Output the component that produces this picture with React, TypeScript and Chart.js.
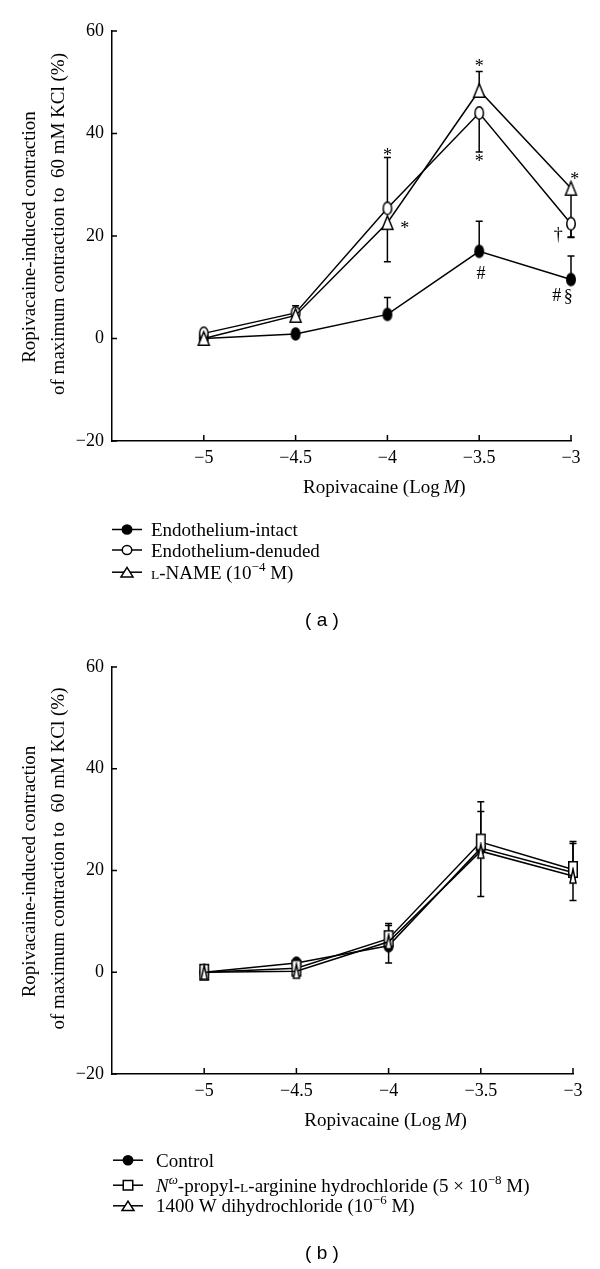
import React, { useEffect, useRef } from 'react';
import { Chart, registerables } from 'chart.js';

Chart.register(...registerables);

const SERIF = '"Liberation Serif", "Times New Roman", serif';
const SANS = '"Liberation Sans", Arial, sans-serif';

// ---------- shared axes ----------
const concentrations = [-5, -4.5, -4, -3.5, -3];
const xTickValues = [-5, -4.5, -4, -3.5, -3];
const yTickValues = [-20, 0, 20, 40, 60];
const xMin = -5.5;
const xMax = -3;
const yMin = -20;
const yMax = 60;

// ---------- panel (a) ----------
const intactMean = [0, 0.9, 4.7, 17.0, 11.5];
const intactSemUp = [0, 0, 3.3, 5.9, 4.6];
const intactSemDown = [0, 0, 0, 0, 0];

const denudedMean = [1.0, 5.0, 25.4, 44.0, 22.4];
const denudedSemUp = [0, 1.4, 9.9, 0, 0];
const denudedSemDown = [0, 0, 0, 7.6, 2.7];

const lnameMean = [0, 4.5, 22.6, 48.4, 29.3];
const lnameSemUp = [0, 0, 0, 3.7, 0];
const lnameSemDown = [0, 0, 7.6, 0, 9.5];

const annotSymbolsA = ['*', '*', '*', '*', '*', '\u2020', '#', '#', '\u00a7'];
const annotXA = [-4, -3.906, -3.5, -3.5, -2.98, -3.07, -3.49, -3.077, -3.015];
const annotYA = [36.4, 22.3, 53.8, 35.4, 31.9, 20.2, 12.8, 8.5, 8.1];

// ---------- panel (b) ----------
const controlMean = [0, 1.8, 5.2, 24.4, 19.6];
const controlSemUp = [0, 0, 4.0, 7.2, 5.7];
const controlSemDown = [0, 0, 0, 0, 0];

const propylMean = [0, 0.8, 6.6, 25.6, 20.2];
const propylSemUp = [0, 0, 3.0, 7.9, 5.5];
const propylSemDown = [0, 0, 0, 0, 0];

const w1400Mean = [0, 0.2, 6.0, 23.8, 18.9];
const w1400SemUp = [0, 0, 0, 0, 0];
const w1400SemDown = [0, 0, 4.2, 8.9, 4.8];

// ---------- legend texts ----------
type Seg = { t: string; size?: number; italic?: boolean; rise?: number };
const legendA: Seg[][] = [
  [{ t: 'Endothelium-intact' }],
  [{ t: 'Endothelium-denuded' }],
  [{ t: 'L', size: 13.5 }, { t: '-NAME (10' }, { t: '\u22124', size: 13, rise: 8 }, { t: ' M)' }],
];
const legendB: Seg[][] = [
  [{ t: 'Control' }],
  [
    { t: 'N', italic: true },
    { t: '\u03c9', italic: true, size: 13, rise: 8 },
    { t: '-propyl-' },
    { t: 'L', size: 13.5 },
    { t: '-arginine hydrochloride (5 \u00d7 10' },
    { t: '\u22128', size: 13, rise: 8 },
    { t: ' M)' },
  ],
  [{ t: '1400 W dihydrochloride (10' }, { t: '\u22126', size: 13, rise: 8 }, { t: ' M)' }],
];

const yTitleLines = ['Ropivacaine-induced contraction', 'of maximum contraction to  60 mM KCl (%)'];

type MarkerKind = 'filledCircle' | 'openCircle' | 'openTriangle' | 'openSquare';

const LW = 1.5;

function drawShape(ctx: CanvasRenderingContext2D, kind: MarkerKind, cx: number, cy: number, w: number, h: number) {
  const lw = LW;
  ctx.save();
  ctx.lineWidth = lw;
  ctx.strokeStyle = '#000';
  ctx.fillStyle = kind === 'filledCircle' ? '#000' : '#fff';
  ctx.beginPath();
  const hw = w / 2 - lw / 2;
  const hh = h / 2 - lw / 2;
  if (kind === 'filledCircle' || kind === 'openCircle') {
    ctx.ellipse(cx, cy, hw, hh, 0, 0, Math.PI * 2);
  } else if (kind === 'openTriangle') {
    ctx.moveTo(cx, cy - hh);
    ctx.lineTo(cx + hw, cy + hh);
    ctx.lineTo(cx - hw, cy + hh);
    ctx.closePath();
  } else {
    ctx.rect(cx - hw, cy - hh, hw * 2, hh * 2);
  }
  ctx.fill();
  ctx.stroke();
  ctx.restore();
}

function makeMarker(kind: MarkerKind, w: number, h: number): HTMLCanvasElement {
  const c = document.createElement('canvas');
  c.width = Math.ceil(w) + 2;
  c.height = Math.ceil(h) + 2;
  const ctx = c.getContext('2d')!;
  drawShape(ctx, kind, c.width / 2, c.height / 2, w, h);
  return c;
}

const fmt = (v: number) => (v < 0 ? '\u2212' + String(Math.abs(v)) : String(v));

type SeriesDef = {
  label: string;
  mean: number[];
  semUp: number[];
  semDown: number[];
  kind: MarkerKind;
  w: number;
  h: number;
  order: number;
};

type PanelDef = {
  height: number;
  area: { top: number; bottom: number; left: number; right: number };
  series: SeriesDef[];
  legend: Seg[][];
  legendBaselines: number[];
  legendLineX: [number, number];
  legendTextX: number;
  panelLabel: string;
  annotSymbols: string[];
  annotX: number[];
  annotY: number[];
};

const legendMarkerSize: Record<MarkerKind, [number, number]> = {
  filledCircle: [11, 10.5],
  openCircle: [11, 10.5],
  openTriangle: [13.5, 11],
  openSquare: [11, 11],
};

function drawRich(ctx: CanvasRenderingContext2D, x: number, baseline: number, segs: Seg[]) {
  let cx = x;
  ctx.textAlign = 'left';
  ctx.textBaseline = 'alphabetic';
  for (const s of segs) {
    ctx.font = `${s.italic ? 'italic ' : ''}${s.size || 19}px ${SERIF}`;
    ctx.fillText(s.t, cx, baseline - (s.rise || 0));
    cx += ctx.measureText(s.t).width;
  }
}

function makePlugin(p: PanelDef) {
  return {
    id: 'decor',
    beforeDatasetsDraw(chart: any) {
      const ctx: CanvasRenderingContext2D = chart.ctx;
      const ys = chart.scales.y;
      ctx.save();
      ctx.strokeStyle = '#000';
      ctx.lineWidth = LW;
      chart.data.datasets.forEach((ds: any, di: number) => {
        const meta = chart.getDatasetMeta(di);
        ds.semUp.forEach((_: number, i: number) => {
          const pt = meta.data[i];
          const x = pt.x;
          const m = ds.data[i].y;
          const draws: number[] = [];
          if (ds.semUp[i] > 0) draws.push(m + ds.semUp[i]);
          if (ds.semDown[i] > 0) draws.push(m - ds.semDown[i]);
          for (const end of draws) {
            const y0 = ys.getPixelForValue(m);
            const y1 = ys.getPixelForValue(end);
            ctx.beginPath();
            ctx.moveTo(x, y0);
            ctx.lineTo(x, y1);
            ctx.moveTo(x - 3.5, y1);
            ctx.lineTo(x + 3.5, y1);
            ctx.stroke();
          }
        });
      });
      ctx.restore();
    },
    afterDraw(chart: any) {
      const ctx: CanvasRenderingContext2D = chart.ctx;
      const xs = chart.scales.x;
      const ys = chart.scales.y;
      const a = chart.chartArea;
      ctx.save();
      ctx.strokeStyle = '#000';
      ctx.fillStyle = '#000';
      ctx.lineWidth = LW;
      // inward ticks
      ctx.beginPath();
      for (const v of xTickValues) {
        const px = xs.getPixelForValue(v);
        ctx.moveTo(px, a.bottom);
        ctx.lineTo(px, a.bottom - 6);
      }
      for (const v of yTickValues) {
        const py = ys.getPixelForValue(v);
        ctx.moveTo(a.left, py);
        ctx.lineTo(a.left + 5, py);
      }
      ctx.stroke();

      // annotations
      ctx.font = `18px ${SERIF}`;
      ctx.textAlign = 'center';
      ctx.textBaseline = 'alphabetic';
      p.annotSymbols.forEach((s, i) => {
        const m = ctx.measureText(s);
        const cx = xs.getPixelForValue(p.annotX[i]);
        const cy = ys.getPixelForValue(p.annotY[i]);
        const base = cy + (m.actualBoundingBoxAscent - m.actualBoundingBoxDescent) / 2;
        ctx.fillText(s, cx, base);
      });

      // y title
      const midY = (a.top + a.bottom) / 2;
      ctx.font = `19px ${SERIF}`;
      ctx.textAlign = 'center';
      ctx.textBaseline = 'alphabetic';
      ctx.save();
      ctx.translate(35, midY + 1);
      ctx.rotate(-Math.PI / 2);
      ctx.fillText(yTitleLines[0], 0, 0);
      ctx.restore();
      ctx.save();
      ctx.translate(64, midY - 12);
      ctx.rotate(-Math.PI / 2);
      ctx.fillText(yTitleLines[1], 0, 0);
      ctx.restore();

      // x title
      const xSegs: Seg[] = [{ t: 'Ropivacaine (Log\u2009' }, { t: 'M', italic: true }, { t: ')' }];
      let tw = 0;
      for (const s of xSegs) {
        ctx.font = `${s.italic ? 'italic ' : ''}19px ${SERIF}`;
        tw += ctx.measureText(s.t).width;
      }
      const xc = xs.getPixelForValue(-4) - 3;
      drawRich(ctx, xc - tw / 2, a.bottom + 51.5, xSegs);

      // legend
      p.series.forEach((s, i) => {
        const base = a.bottom + p.legendBaselines[i];
        const my = base - 6.5;
        ctx.beginPath();
        ctx.lineWidth = LW;
        ctx.moveTo(p.legendLineX[0], my);
        ctx.lineTo(p.legendLineX[1], my);
        ctx.stroke();
        const [lw, lh] = legendMarkerSize[s.kind];
        drawShape(ctx, s.kind, (p.legendLineX[0] + p.legendLineX[1]) / 2, my, lw, lh);
        ctx.fillStyle = '#000';
        drawRich(ctx, p.legendTextX, base, p.legend[i]);
      });

      // panel label
      ctx.font = `19px ${SANS}`;
      ctx.textAlign = 'center';
      ctx.textBaseline = 'middle';
      ctx.fillText(p.panelLabel, 322, a.bottom + 179.5);
      ctx.restore();
    },
  };
}

function Panel({ p }: { p: PanelDef }) {
  const ref = useRef<HTMLCanvasElement>(null);
  useEffect(() => {
    const canvas = ref.current!;
    const area = p.area;
    const datasets = p.series.map((s) => ({
      label: s.label,
      data: concentrations.map((x, i) => ({ x, y: s.mean[i] })),
      semUp: s.semUp,
      semDown: s.semDown,
      borderColor: '#000',
      backgroundColor: '#000',
      borderWidth: LW,
      pointStyle: makeMarker(s.kind, s.w, s.h),
      pointRadius: 6,
      pointHoverRadius: 6,
      showLine: true,
      fill: false,
      tension: 0,
      clip: false,
      order: s.order,
    }));
    const chart = new Chart(canvas, {
      type: 'line',
      data: { datasets } as any,
      options: {
        animation: false,
        responsive: false,
        events: [],
        layout: { padding: { left: 0, top: area.top, right: 600 - area.right, bottom: 0 } },
        plugins: { legend: { display: false }, tooltip: { enabled: false }, title: { display: false } },
        scales: {
          x: {
            type: 'linear',
            min: xMin,
            max: xMax,
            grid: { display: false, drawTicks: false },
            border: { display: true, color: '#000', width: LW },
            afterBuildTicks: (s: any) => {
              s.ticks = xTickValues.map((v) => ({ value: v }));
            },
            afterFit: (s: any) => {
              s.height = p.height - area.bottom;
            },
            ticks: {
              padding: 6,
              color: '#000',
              maxRotation: 0,
              autoSkip: false,
              font: { family: SERIF, size: 18 },
              callback: (v: any) => fmt(Number(v)),
            },
          },
          y: {
            type: 'linear',
            min: yMin,
            max: yMax,
            grid: { display: false, drawTicks: false },
            border: { display: true, color: '#000', width: LW },
            afterBuildTicks: (s: any) => {
              s.ticks = yTickValues.map((v) => ({ value: v }));
            },
            afterFit: (s: any) => {
              s.width = area.left;
            },
            ticks: {
              padding: 8,
              color: '#000',
              font: { family: SERIF, size: 18 },
              callback: (v: any) => fmt(Number(v)),
            },
          },
        },
      } as any,
      plugins: [makePlugin(p)],
    });
    return () => chart.destroy();
  }, [p]);
  return <canvas ref={ref} width={600} height={p.height} style={{ display: 'block', width: 600, height: p.height }} />;
}

const panelA: PanelDef = {
  height: 634,
  area: { top: 31, bottom: 441, left: 112, right: 571 },
  series: [
    { label: 'Endothelium-intact', mean: intactMean, semUp: intactSemUp, semDown: intactSemDown, kind: 'filledCircle', w: 10, h: 13.5, order: 2 },
    { label: 'Endothelium-denuded', mean: denudedMean, semUp: denudedSemUp, semDown: denudedSemDown, kind: 'openCircle', w: 10, h: 14, order: 1 },
    { label: 'L-NAME (10^-4 M)', mean: lnameMean, semUp: lnameSemUp, semDown: lnameSemDown, kind: 'openTriangle', w: 12.5, h: 15, order: 0 },
  ],
  legend: legendA,
  legendBaselines: [95, 115.5, 137.7],
  legendLineX: [112, 142],
  legendTextX: 151,
  panelLabel: '( a )',
  annotSymbols: annotSymbolsA,
  annotX: annotXA,
  annotY: annotYA,
};

const panelB: PanelDef = {
  height: 635,
  area: { top: 33, bottom: 440, left: 112, right: 573 },
  series: [
    { label: 'Control', mean: controlMean, semUp: controlSemUp, semDown: controlSemDown, kind: 'filledCircle', w: 10, h: 13.5, order: 2 },
    { label: 'Nω-propyl-L-arginine hydrochloride', mean: propylMean, semUp: propylSemUp, semDown: propylSemDown, kind: 'openSquare', w: 10, h: 17, order: 1 },
    { label: '1400 W dihydrochloride', mean: w1400Mean, semUp: w1400SemUp, semDown: w1400SemDown, kind: 'openTriangle', w: 7.5, h: 15.5, order: 0 },
  ],
  legend: legendB,
  legendBaselines: [92.7, 117.7, 138.3],
  legendLineX: [113, 143],
  legendTextX: 156,
  panelLabel: '( b )',
  annotSymbols: [],
  annotX: [],
  annotY: [],
};

export default function App() {
  return (
    <div style={{ position: 'absolute', left: 0, top: 0, width: 600, height: 1269, background: '#fff' }}>
      <Panel p={panelA} />
      <Panel p={panelB} />
    </div>
  );
}
